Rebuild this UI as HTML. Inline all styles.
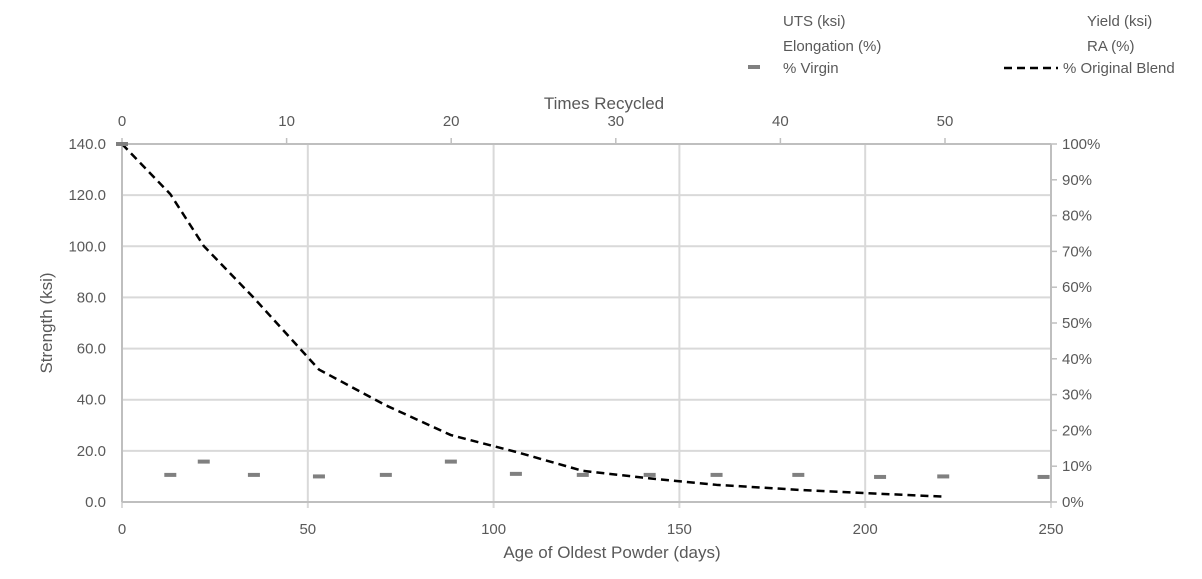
<!DOCTYPE html>
<html><head><meta charset="utf-8"><style>
body{margin:0;background:#fff;}
svg{display:block;font-family:"Liberation Sans",sans-serif;}
text{fill:#595959;}
</style></head><body>
<svg id="chart" width="1202" height="579">
<g id="grid"></g>
<g id="axes"></g>
<g id="series"></g>
<g font-size="15">
 <text x="783" y="26">UTS (ksi)</text>
 <text x="1087" y="26">Yield (ksi)</text>
 <text x="783" y="51">Elongation (%)</text>
 <text x="1087" y="51">RA (%)</text>
 <rect x="748" y="65" width="12" height="4" fill="#808080"/>
 <text x="783" y="73">% Virgin</text>
 <line x1="1004" y1="68" x2="1058" y2="68" stroke="#000" stroke-width="2.5" stroke-dasharray="8,5"/>
 <text x="1063" y="73">% Original Blend</text>
</g>
<text x="604" y="109" font-size="17" text-anchor="middle">Times Recycled</text>
<text x="612" y="558" font-size="17" text-anchor="middle">Age of Oldest Powder (days)</text>
<text x="0" y="0" font-size="17" text-anchor="middle" transform="translate(52,323) rotate(-90)">Strength (ksi)</text>
</svg>
<script>
const days=[0,13,22,35.5,53,71,88.5,106,124,142,160,182,204,221,248];
const virgin=[140,10.6,15.8,10.6,10,10.6,15.8,11,10.6,10.6,10.6,10.6,9.8,10,9.8];
const origDays=[0,13,22,35.5,53,71,88.5,106,124,142,160,182,204,221];
const origPct=[100,86,71.5,57,37,27,18.7,14,8.7,6.6,4.8,3.4,2.3,1.5];
const xTicks=[0,50,100,150,200,250];
const yTicks=[0,20,40,60,80,100,120,140];
const pTicks=[0,10,20,30,40,50,60,70,80,90,100];
const topTicks=[0,10,20,30,40,50];
const NS="http://www.w3.org/2000/svg";
const X0=122,X1=1051,Y0=502,Y1=144;
const xs=d=>X0+(X1-X0)*d/250;
const ys=v=>Y0-(Y0-Y1)*v/140;
const ps=p=>Y0-(Y0-Y1)*p/100;
const ts=t=>X0+(945-X0)*t/50;
function mk(tag,at,par){const e=document.createElementNS(NS,tag);for(const k in at)e.setAttribute(k,at[k]);document.getElementById(par).appendChild(e);return e;}
yTicks.forEach(v=>{
 const l=mk('line',{x1:X0,x2:X1,y1:ys(v),y2:ys(v),stroke:'#d9d9d9','stroke-width':2},'grid');
 
 
 const t=mk('text',{x:106,y:ys(v)+5,'text-anchor':'end','font-size':15},'axes');t.textContent=v.toFixed(1);
 
 
});
xTicks.forEach(v=>{
 const l=mk('line',{x1:xs(v),x2:xs(v),y1:Y1,y2:Y0+6,stroke:'#d9d9d9','stroke-width':2},'grid');
 
 
 const t=mk('text',{x:xs(v),y:534,'text-anchor':'middle','font-size':15},'axes');t.textContent=v;
 
 
});
pTicks.forEach(v=>{
 const l=mk('line',{x1:X1,x2:X1+6,y1:ps(v),y2:ps(v),stroke:'#bfbfbf','stroke-width':1.5},'axes');
 
 
 const t=mk('text',{x:1062,y:ps(v)+5,'font-size':15},'axes');t.textContent=v+'%';
 
 
});
topTicks.forEach(v=>{
 const l=mk('line',{x1:ts(v),x2:ts(v),y1:Y1-6,y2:Y1,stroke:'#bfbfbf','stroke-width':1.5},'axes');
 
 
 const t=mk('text',{x:ts(v),y:126,'text-anchor':'middle','font-size':15},'axes');t.textContent=v;
 
 
});
[[X0,Y1,X1,Y1],[X0,Y1,X0,Y0],[X0,Y0,X1,Y0],[X1,Y1,X1,Y0]].forEach(a=>{
 const l=mk('line',{x1:a[0],y1:a[1],x2:a[2],y2:a[3],stroke:'#bfbfbf','stroke-width':2},'axes');
 
 
});
const path=mk('polyline',{points:origDays.map((d,i)=>xs(d)+','+ps(origPct[i])).join(' '),fill:'none',stroke:'#000','stroke-width':2.5,'stroke-dasharray':'8,5','stroke-linejoin':'round'},'series');


days.forEach((d,i)=>{
 const r=mk('rect',{x:xs(d)-6,y:ys(virgin[i])-2,width:12,height:4,fill:'#808080'},'series');
 
 
});
</script>
</body></html>
